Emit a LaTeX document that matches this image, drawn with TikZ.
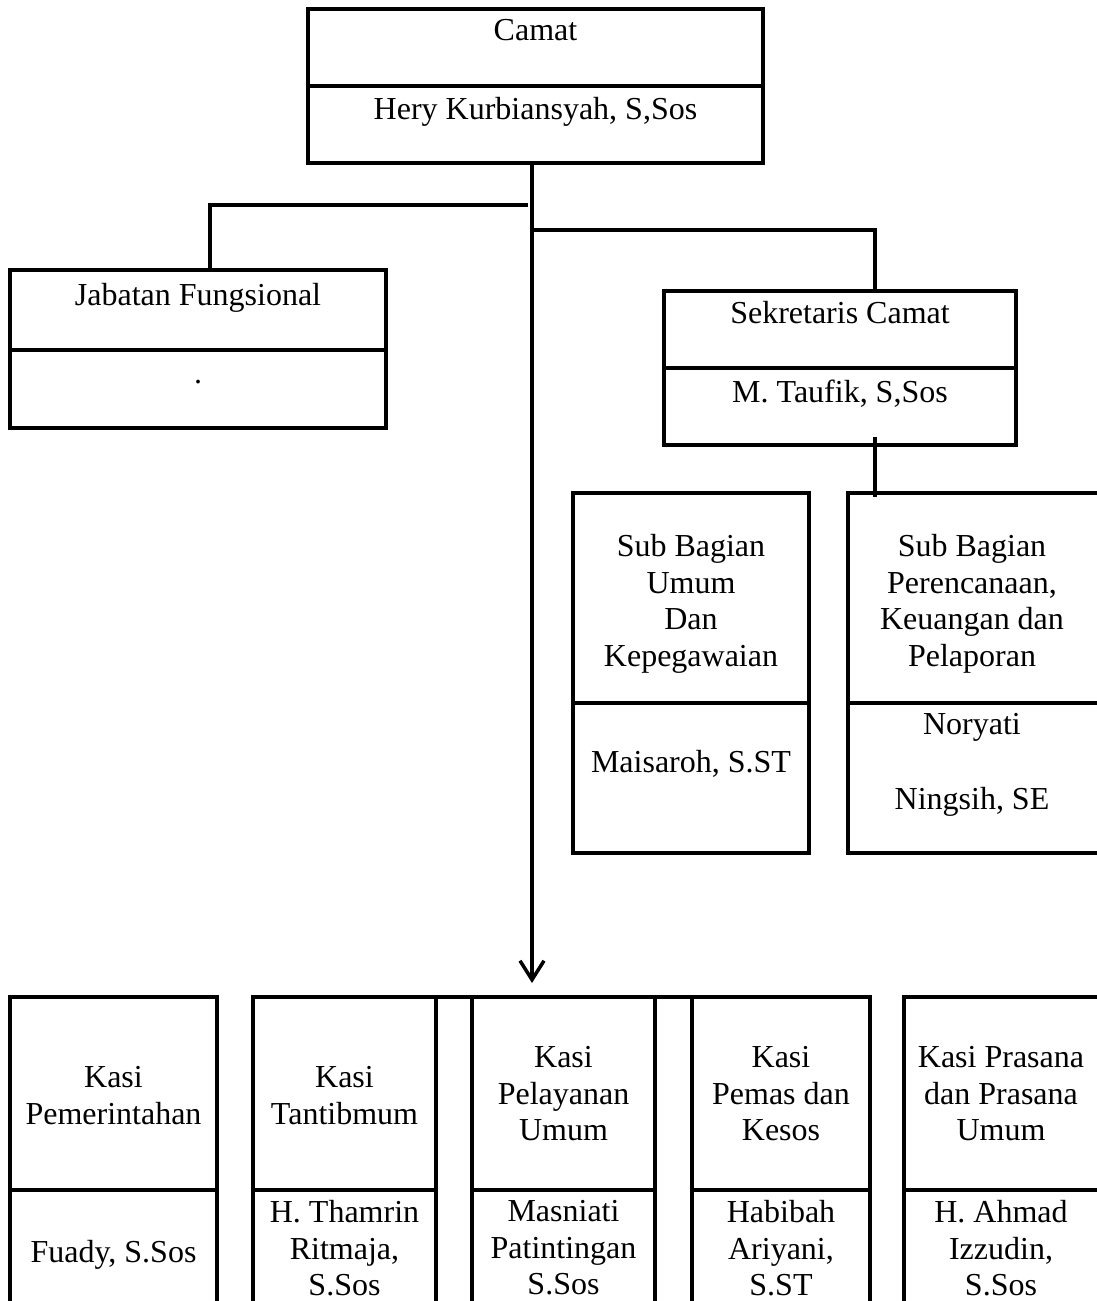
\documentclass[tikz,border=0pt]{standalone}
\usepackage{fontspec}
\setmainfont{Liberation Serif}
\usetikzlibrary{arrows.meta,fit,positioning}

\begin{document}
\begin{tikzpicture}[x=1pt, y=-1pt, line width=3.5pt, >={Straight Barb[length=19pt,width=24pt]},
   font=\fontsize{32}{36.5}\selectfont]
   \useasboundingbox (0,0) rectangle (1097,1301);
   \clip (0,0) rectangle (1097,1301);
   % kotak
   \begin{scope}[every node/.style={draw, line width=4pt, inner sep=0pt, outer sep=0pt}]
    \node (camatA) [fit={(308,9) (763,86)}] {};
    \node (camatB) [fit={(308,86) (763,163)}] {};
    \node (jabA) [fit={(10,270) (386,350)}] {};
    \node (jabB) [fit={(10,350) (386,428)}] {};
    \node (sekA) [fit={(664,291) (1016,368)}] {};
    \node (sekB) [fit={(664,368) (1016,445)}] {};
    \node (umumA) [fit={(573,493) (809,703)}] {};
    \node (umumB) [fit={(573,703) (809,853)}] {};
    \node (renA) [fit={(848,493) (1103,703)}] {};
    \node (renB) [fit={(848,703) (1103,853)}] {};
    \node (pemA) [fit={(10,997) (217,1190)}] {};
    \node (pemB) [fit={(10,1190) (217,1330)}] {};
    \node (tanA) [fit={(253,997) (436,1190)}] {};
    \node (tanB) [fit={(253,1190) (436,1330)}] {};
    \node (pelA) [fit={(472,997) (655,1190)}] {};
    \node (pelB) [fit={(472,1190) (655,1330)}] {};
    \node (pmsA) [fit={(692,997) (870,1190)}] {};
    \node (pmsB) [fit={(692,1190) (870,1330)}] {};
    \node (prsA) [fit={(904,997) (1103,1190)}] {};
    \node (prsB) [fit={(904,1190) (1103,1330)}] {};
   \end{scope}
   % teks
   \begin{scope}[every node/.style={anchor=north, align=center, inner sep=0pt}]
    \node (camatT) [below=9pt of camatA.north] {Camat};
    \node (heryT) [below=10pt of camatB.north] {Hery Kurbiansyah, S,Sos};
    \node (jabT) [below=12pt of jabA.north] {Jabatan Fungsional};
    \node (titikT) [below=28pt of jabB.north] {.};
    \node (sekT) [below=9pt of sekA.north] {Sekretaris Camat};
    \node (taufikT) [below=10pt of sekB.north] {M. Taufik, S,Sos};
    \node (umumT) [below=40pt of umumA.north] {Sub Bagian\\Umum\\Dan\\Kepegawaian};
    \node (maiT) [below=46pt of umumB.north] {Maisaroh, S.ST};
    \node (renT) at (972,533) {Sub Bagian\\Perencanaan,\\Keuangan dan\\Pelaporan};
    \node (norT) at (972,712) {Noryati\\[38pt]Ningsih, SE};
    \node (pemT) [below=68pt of pemA.north] {Kasi\\Pemerintahan};
    \node (fuaT) [below=49pt of pemB.north] {Fuady, S.Sos};
    \node (tanT) [below=68pt of tanA.north] {Kasi\\Tantibmum};
    \node (thaT) [below=9pt of tanB.north] {H. Thamrin\\Ritmaja,\\S.Sos};
    \node (pelT) [below=48pt of pelA.north] {Kasi\\Pelayanan\\Umum};
    \node (masT) [below=9pt of pelB.north] {Masniati\\Patintingan\\S.Sos};
    \node (pmsT) [below=48pt of pmsA.north] {Kasi\\Pemas dan\\Kesos};
    \node (habT) [below=9pt of pmsB.north] {Habibah\\Ariyani,\\S.ST};
    \node (prsT) at (1001,1045) {Kasi Prasana\\dan Prasana\\Umum};
    \node (ahmT) at (1001,1199) {H. Ahmad\\Izzudin,\\S.Sos};
   \end{scope}
   % garis
   \coordinate (ujung) at (532,983);
   \coordinate (kiri) at (528,205);
   \coordinate (kanan) at (875,230);
   \coordinate (sekBawah) at (875,437);
   \draw[->] (camatB.south -| ujung) -- (ujung);
   \draw (kiri) -| (jabA.north -| 210,0);
   \draw (ujung |- kanan) -- (kanan) -- (kanan |- sekA.north);
   \draw (sekBawah) -- ([yshift=-4pt]sekBawah |- renA.north);
   \draw[line width=4pt] (tanA.north west) -- (pmsA.north east);
\end{tikzpicture}
\end{document}
